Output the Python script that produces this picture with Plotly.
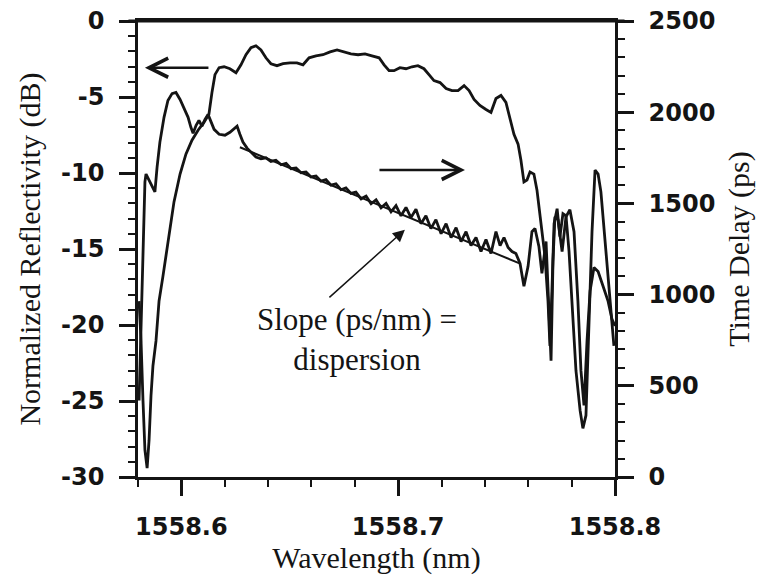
import plotly.graph_objects as go

# Reflectivity spectrum (left axis, dB)
refl_wl = [1558.5805, 1558.5814, 1558.5823, 1558.5832, 1558.5842, 1558.5851, 1558.5860, 1558.5869, 1558.5883, 1558.5897,
           1558.5915, 1558.5938, 1558.5966, 1558.5994, 1558.6021, 1558.6049, 1558.6077, 1558.6104, 1558.6127, 1558.6141,
           1558.6155, 1558.6174, 1558.6197, 1558.6224, 1558.6252, 1558.6275, 1558.6298, 1558.6321, 1558.6344, 1558.6367,
           1558.6390, 1558.6413, 1558.6441, 1558.6469, 1558.6501, 1558.6533, 1558.6561, 1558.6589, 1558.6621, 1558.6653,
           1558.6686, 1558.6718, 1558.6750, 1558.6782, 1558.6815, 1558.6847, 1558.6879, 1558.6912, 1558.6935, 1558.6958,
           1558.6981, 1558.7008, 1558.7036, 1558.7064, 1558.7091, 1558.7119, 1558.7142, 1558.7165, 1558.7193, 1558.7221,
           1558.7248, 1558.7276, 1558.7304, 1558.7327, 1558.7350, 1558.7377, 1558.7405, 1558.7428, 1558.7451, 1558.7474,
           1558.7497, 1558.7516, 1558.7534, 1558.7553, 1558.7566, 1558.7580, 1558.7594, 1558.7608, 1558.7626, 1558.7640,
           1558.7659, 1558.7677, 1558.7691, 1558.7700, 1558.7709, 1558.7719, 1558.7733, 1558.7746, 1558.7760, 1558.7774,
           1558.7788, 1558.7802, 1558.7820, 1558.7839, 1558.7852, 1558.7866, 1558.7880, 1558.7894, 1558.7908, 1558.7922,
           1558.7935, 1558.7954, 1558.7972, 1558.7986, 1558.7995]
refl_db = [-18.43, -21.05, -24.97, -28.24, -29.41, -27.58, -24.64, -22.68, -21.05, -18.43,
           -16.80, -14.51, -11.90, -10.07, -8.76, -7.84, -7.19, -6.67, -6.14, -4.71,
           -3.53, -3.07, -3.01, -3.14, -3.40, -2.88, -2.22, -1.76, -1.63, -1.90,
           -2.42, -2.81, -2.94, -2.81, -2.75, -2.75, -2.88, -2.42, -2.29, -2.22,
           -2.03, -1.90, -2.03, -2.16, -2.22, -2.16, -2.29, -2.42, -2.88, -3.27,
           -3.27, -3.07, -3.14, -3.01, -2.94, -3.14, -3.53, -3.92, -4.05, -4.44,
           -4.58, -4.58, -4.25, -4.58, -5.16, -5.56, -5.82, -6.01, -5.10, -4.90,
           -5.36, -6.34, -7.45, -8.10, -9.15, -10.59, -10.46, -9.93, -10.07, -11.11,
           -13.33, -15.49, -18.43, -21.37, -17.78, -13.33, -12.35, -14.18, -12.68, -12.81,
           -15.16, -18.43, -23.01, -25.62, -26.80, -25.95, -20.39, -13.86, -9.80, -10.07,
           -11.24, -14.51, -17.78, -20.39, -21.37]

# Group delay (right axis, ps)
delay_wl = [1558.5805, 1558.5814, 1558.5823, 1558.5832, 1558.5837, 1558.5851, 1558.5865, 1558.5878, 1558.5888, 1558.5901,
            1558.5920, 1558.5938, 1558.5957, 1558.5975, 1558.5994, 1558.6012, 1558.6031, 1558.6044, 1558.6054, 1558.6068,
            1558.6081, 1558.6095, 1558.6109, 1558.6123, 1558.6137, 1558.6151, 1558.6174, 1558.6201, 1558.6224, 1558.6243,
            1558.6257, 1558.6270, 1558.6284, 1558.6303, 1558.6321, 1558.6344, 1558.6367, 1558.6390, 1558.6413, 1558.6436,
            1558.6460, 1558.6483, 1558.6506, 1558.6529, 1558.6552, 1558.6575, 1558.6598, 1558.6621, 1558.6644, 1558.6667,
            1558.6690, 1558.6713, 1558.6736, 1558.6759, 1558.6782, 1558.6805, 1558.6829, 1558.6852, 1558.6875, 1558.6898,
            1558.6921, 1558.6944, 1558.6967, 1558.6990, 1558.7013, 1558.7036, 1558.7059, 1558.7082, 1558.7105, 1558.7128,
            1558.7151, 1558.7174, 1558.7198, 1558.7221, 1558.7244, 1558.7267, 1558.7290, 1558.7313, 1558.7336, 1558.7359,
            1558.7382, 1558.7405, 1558.7428, 1558.7451, 1558.7470, 1558.7488, 1558.7507, 1558.7525, 1558.7543, 1558.7562,
            1558.7580, 1558.7599, 1558.7617, 1558.7631, 1558.7649, 1558.7663, 1558.7682, 1558.7696, 1558.7705, 1558.7714,
            1558.7723, 1558.7737, 1558.7756, 1558.7774, 1558.7792, 1558.7811, 1558.7829, 1558.7843, 1558.7857, 1558.7871,
            1558.7885, 1558.7903, 1558.7922, 1558.7945, 1558.7968, 1558.7986, 1558.8000]
delay_ps = [419, 801, 1236, 1618, 1661, 1629, 1590, 1563, 1699, 1836,
            1972, 2064, 2102, 2108, 2070, 2026, 1972, 1917, 1885, 1928,
            1955, 1923, 1961, 1988, 1944, 1906, 1879, 1874, 1890, 1912,
            1923, 1879, 1836, 1803, 1781, 1754, 1745, 1750, 1730, 1737,
            1712, 1720, 1690, 1694, 1668, 1672, 1645, 1650, 1622, 1630,
            1600, 1607, 1575, 1585, 1555, 1562, 1525, 1540, 1498, 1520,
            1476, 1500, 1454, 1488, 1432, 1478, 1422, 1468, 1389, 1432,
            1362, 1411, 1334, 1389, 1313, 1367, 1291, 1345, 1269, 1313,
            1236, 1302, 1225, 1345, 1269, 1313, 1258, 1236, 1225, 1171,
            1046, 1155, 1345, 1362, 1264, 1117, 1291, 855, 637, 1182,
            1427, 1411, 1236, 1427, 1465, 1345, 964, 583, 392, 746,
            1019, 1149, 1127, 1046, 964, 866, 828]

# Linear fit through the delay (slope = dispersion)
fit_wl = [1558.627, 1558.756]
fit_ps = [1808, 1171]

x_tickvals = [1558.6, 1558.7, 1558.8]
x_ticktext = ["1558.6", "1558.7", "1558.8"]
refl_tickvals = [-30, -25, -20, -15, -10, -5, 0]
refl_ticktext = ["-30", "-25", "-20", "-15", "-10", "-5", "0"]
delay_tickvals = [0, 500, 1000, 1500, 2000, 2500]
delay_ticktext = ["0", "500", "1000", "1500", "2000", "2500"]

ink = "#141414"
tick_font = dict(family="DejaVu Sans", size=24, color=ink, weight="bold")
title_font = dict(family="Liberation Serif", size=30, color=ink)

fig = go.Figure()
fig.add_trace(go.Scatter(x=refl_wl, y=refl_db, mode="lines",
                         line=dict(color=ink, width=2.8), yaxis="y"))
fig.add_trace(go.Scatter(x=delay_wl, y=delay_ps, mode="lines",
                         line=dict(color=ink, width=2.8), yaxis="y2"))
fig.add_trace(go.Scatter(x=fit_wl, y=fit_ps, mode="lines",
                         line=dict(color=ink, width=2), yaxis="y2"))

axis_common = dict(
    ticks="outside", ticklen=16, tickwidth=2.5, tickcolor=ink,
    showline=True, linewidth=2.5, linecolor=ink,
    showgrid=False, zeroline=False, tickfont=tick_font,
    ticklabelstandoff=10, ticklabeloverflow="allow", automargin=False,
)

# the page body adds an 8px offset, so margins are shifted to compensate
fig.update_layout(
    width=775, height=578,
    margin=dict(l=130, r=168, t=13, b=109),
    paper_bgcolor="white", plot_bgcolor="white",
    showlegend=False,
    xaxis=dict(
        range=[1558.58, 1558.8], tickmode="array",
        tickvals=x_tickvals, ticktext=x_ticktext, mirror=True,
        minor=dict(tickmode="linear", tick0=1558.58, dtick=0.02, ticks="outside",
                   ticklen=7, tickwidth=2, tickcolor=ink),
        title=dict(text="Wavelength (nm)", font=title_font, standoff=6),
        **axis_common,
    ),
    yaxis=dict(
        range=[-30, 0], tickmode="array",
        tickvals=refl_tickvals, ticktext=refl_ticktext,
        minor=dict(tickmode="linear", tick0=0, dtick=1, ticks="outside",
                   ticklen=7, tickwidth=2, tickcolor=ink),
        title=dict(text="Normalized Reflectivity (dB)", font=title_font, standoff=12),
        **axis_common,
    ),
    yaxis2=dict(
        range=[0, 2500], overlaying="y", side="right", tickmode="array",
        tickvals=delay_tickvals, ticktext=delay_ticktext,
        minor=dict(tickmode="linear", tick0=0, dtick=100, ticks="outside",
                   ticklen=7, tickwidth=2, tickcolor=ink),
        title=dict(text="Time Delay (ps)", font=title_font, standoff=14),
        **axis_common,
    ),
)

# top frame line
fig.add_shape(type="line", xref="paper", yref="paper", x0=-0.02, x1=1.02, y0=1, y1=1,
              line=dict(color=ink, width=3), layer="above")

# Arrows pointing to each curve's axis
fig.add_annotation(x=1558.5832, y=-3.07, xref="x", yref="y", text="",
                   showarrow=True, arrowhead=5, arrowsize=1.5, arrowwidth=2.5,
                   arrowcolor=ink, ax=65, ay=0)
fig.add_annotation(x=1558.7308, y=-9.80, xref="x", yref="y", text="",
                   showarrow=True, arrowhead=5, arrowsize=1.5, arrowwidth=2.5,
                   arrowcolor=ink, ax=-87, ay=0)
fig.add_annotation(x=1558.7031, y=-13.73, xref="x", yref="y", text="",
                   showarrow=True, arrowhead=2, arrowsize=1.6, arrowwidth=1.5,
                   arrowcolor=ink, ax=-77, ay=69)
fig.add_annotation(x=1558.681, y=-20.95, xref="x", yref="y",
                   text="Slope (ps/nm) =<br>dispersion", showarrow=False,
                   font=dict(family="Liberation Serif", size=31, color=ink),
                   align="center")

fig.write_html("out.html")
